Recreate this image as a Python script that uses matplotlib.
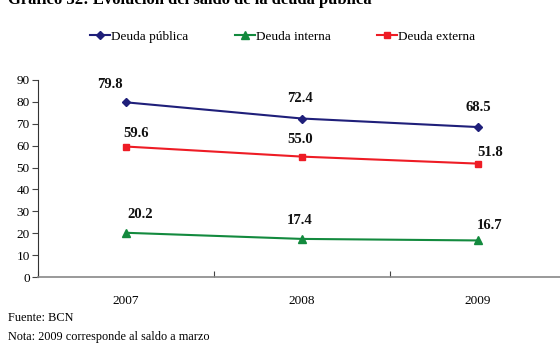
import matplotlib

matplotlib.use("Agg")
from matplotlib import pyplot as plt
import numpy as np

years = ['2007', '2008', '2009']
deuda_publica = [79.8, 72.4, 68.5]
deuda_interna = [20.2, 17.4, 16.7]
deuda_externa = [59.6, 55.0, 51.8]

# label offsets in pixels (dx, dy) relative to the point
off_pub = [(-16, 18), (-2, 20), (0, 20)]
off_ext = [(10, 13), (-2, 17), (12, 11)]
off_int = [(14, 18), (-2, 18), (12, 15)]

plt.rcParams['font.family'] = ['Liberation Serif', 'DejaVu Serif']

fig = plt.figure(figsize=(5.6, 3.45), dpi=100)
ax = fig.add_axes([38 / 560, 68 / 345, 528 / 560, 197 / 345])

x = np.arange(len(years)) + 0.5
l1, = ax.plot(x, deuda_publica, color='#1f1f7a', marker='D', markersize=4, lw=1.5, label='Deuda pública')
l2, = ax.plot(x, deuda_interna, color='#138a3e', marker='^', markersize=6, lw=1.5, label='Deuda interna')
l3, = ax.plot(x, deuda_externa, color='#ee1c25', marker='s', markersize=4, lw=1.5, label='Deuda externa')

for series, offs in [(deuda_publica, off_pub), (deuda_externa, off_ext), (deuda_interna, off_int)]:
    for xi, v, (dx, dy) in zip(x, series, offs):
        ax.annotate('%.1f' % v, (xi, v), xytext=(dx * 0.72, dy * 0.72),
                    textcoords='offset points', ha='center', va='center',
                    fontsize=10.5, fontweight='bold', color='#111111')

ax.set_xlim(0, 3)
ax.set_ylim(0, 90)
ax.set_yticks(range(0, 91, 10))
ax.set_xticks([0, 1, 2, 3])
ax.set_xticklabels([])
ax.set_xticks(x, minor=True)
ax.set_xticklabels(years, minor=True)
ax.tick_params(axis='x', which='minor', length=0, pad=13, labelsize=9.5)
ax.tick_params(axis='x', which='major', direction='in', length=4, color='#444444')
ax.tick_params(axis='y', direction='out', length=4, labelsize=9.5, pad=2, color='#444444')
for s in ['top', 'right']:
    ax.spines[s].set_visible(False)
ax.spines['left'].set_color('#333333')
ax.spines['bottom'].set_color('#888888')
ax.spines['bottom'].set_linewidth(1.2)

fig.legend(handles=[l1, l2, l3], loc='center', bbox_to_anchor=(0.505, 1 - 37 / 345),
           ncol=3, frameon=False, fontsize=9.5, handlelength=1.5, handletextpad=0.1,
           columnspacing=3.5)

# title is cut at the top edge, as in the source image
fig.text(8 / 560, 1.0, 'Gráfico 32: Evolución del saldo de la deuda pública',
         fontsize=12, fontweight='bold', va='center', ha='left')
fig.text(8 / 560, 1 - 318 / 345, 'Fuente: BCN', fontsize=8.8, va='center')
fig.text(8 / 560, 1 - 337 / 345, 'Nota: 2009 corresponde al saldo a marzo', fontsize=8.8, va='center')

fig.savefig('out.png', dpi=100)
